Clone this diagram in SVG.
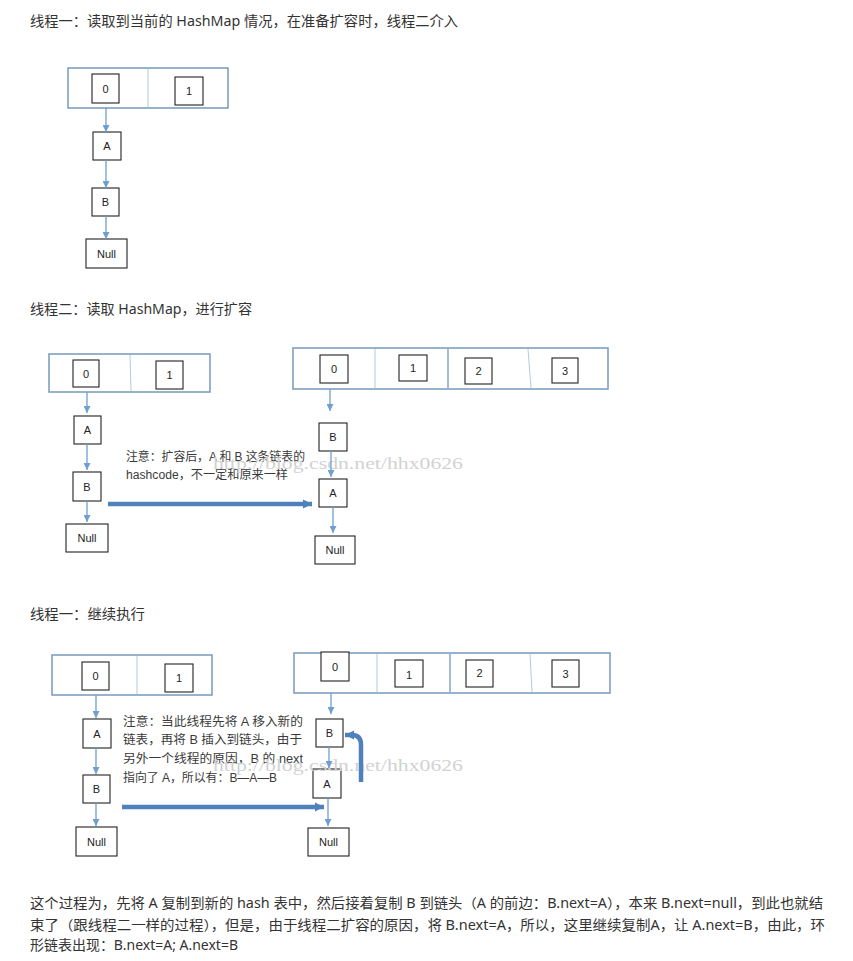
<svg xmlns="http://www.w3.org/2000/svg" width="853" height="961" viewBox="0 0 853 961">
  <style>
    .head { font-family: "Noto Sans", "Noto Sans CJK SC", sans-serif; font-size: 14px; fill: #333333; }
    .para { font-family: "Noto Sans", "Noto Sans CJK SC", sans-serif; font-size: 13.5px; fill: #333333; }
    .note { font-family: "Liberation Sans", "Noto Sans CJK SC", sans-serif; font-size: 12px; fill: #3a3a3a; }
    .mark { font-family: "Liberation Serif", serif; font-size: 17px; fill: #d2d2d2; }
    .table { fill: #ffffff; stroke: #7f9fc0; stroke-width: 1.6; }
    .div-light { stroke: #b7c9dc; stroke-width: 1; }
    .div-dark { stroke: #7f9fc0; stroke-width: 1.4; }
    .box { fill: #ffffff; stroke: #222222; stroke-width: 1.1; }
    .lbl { font-family: "Liberation Sans", sans-serif; font-size: 11px; fill: #222222; text-anchor: middle; dominant-baseline: central; }
    .link { stroke: #6f9fd0; stroke-width: 1.3; fill: none; marker-end: url(#tip); }
    .fat { stroke: #4f81bd; stroke-width: 4.5; fill: none; marker-end: url(#fatTip); }
  </style>
  <defs>
    <marker id="tip" viewBox="0 0 10 10" refX="10" refY="5" markerWidth="7" markerHeight="7" markerUnits="userSpaceOnUse" orient="auto">
      <path d="M0,0 L10,5 L0,10 z" fill="#6f9fd0"/>
    </marker>
    <marker id="fatTip" viewBox="0 0 10 10" refX="10" refY="5" markerWidth="9" markerHeight="10" markerUnits="userSpaceOnUse" orient="auto">
      <path d="M0,0 L10,5 L0,10 z" fill="#4f81bd"/>
    </marker>
  </defs>

  <rect width="853" height="961" fill="#ffffff"/>

  <!-- section headings -->
  <text class="head" x="30" y="26" textLength="428" lengthAdjust="spacingAndGlyphs">线程一：读取到当前的 HashMap 情况，在准备扩容时，线程二介入</text>
  <text class="head" x="30" y="314" textLength="222" lengthAdjust="spacingAndGlyphs">线程二：读取 HashMap，进行扩容</text>
  <text class="head" x="30" y="619" textLength="115" lengthAdjust="spacingAndGlyphs">线程一：继续执行</text>

  <!-- ===== stage 1: original table ===== -->
  <g id="s1-table">
    <rect class="table" x="68" y="68" width="160" height="40"/>
    <line class="div-light" x1="148" y1="69" x2="148" y2="107"/>
  </g>
  <g id="s1-slot0"><rect class="box" x="92" y="74" width="27" height="29"/><text class="lbl" x="105.5" y="88.5">0</text></g>
  <g id="s1-slot1"><rect class="box" x="175" y="77" width="28" height="28"/><text class="lbl" x="189" y="91">1</text></g>
  <g id="s1-A"><rect class="box" x="93" y="132" width="28" height="28"/><text class="lbl" x="107" y="146">A</text></g>
  <g id="s1-B"><rect class="box" x="92" y="188" width="27" height="28"/><text class="lbl" x="105.5" y="202">B</text></g>
  <g id="s1-null"><rect class="box" x="86" y="239" width="41" height="29"/><text class="lbl" x="106.5" y="253.5">Null</text></g>

  <!-- ===== stage 2: old table ===== -->
  <g id="s2-old-table">
    <rect class="table" x="49" y="354" width="161" height="38"/>
    <line class="div-light" x1="130" y1="355" x2="131" y2="391"/>
  </g>
  <g id="s2-old-slot0"><rect class="box" x="73" y="360" width="26" height="27"/><text class="lbl" x="86" y="373.5">0</text></g>
  <g id="s2-old-slot1"><rect class="box" x="156" y="361" width="27" height="28"/><text class="lbl" x="169.5" y="375">1</text></g>
  <g id="s2-old-A"><rect class="box" x="74" y="416" width="27" height="28"/><text class="lbl" x="87.5" y="430">A</text></g>
  <g id="s2-old-B"><rect class="box" x="73" y="472" width="28" height="29"/><text class="lbl" x="87" y="486.5">B</text></g>
  <g id="s2-old-null"><rect class="box" x="66" y="524" width="42" height="28"/><text class="lbl" x="87" y="538">Null</text></g>

  <!-- ===== stage 2: resized table ===== -->
  <g id="s2-new-table">
    <rect class="table" x="293" y="348" width="315" height="41"/>
    <line class="div-light" x1="375" y1="349" x2="375" y2="388"/>
    <line class="div-dark" x1="448" y1="349" x2="448" y2="388"/>
    <line class="div-light" x1="528" y1="349" x2="531" y2="388"/>
  </g>
  <g id="s2-new-slot0"><rect class="box" x="320" y="355" width="28" height="28"/><text class="lbl" x="334" y="369">0</text></g>
  <g id="s2-new-slot1"><rect class="box" x="399" y="355" width="28" height="26"/><text class="lbl" x="413" y="368">1</text></g>
  <g id="s2-new-slot2"><rect class="box" x="465" y="358" width="27" height="26"/><text class="lbl" x="478.5" y="371">2</text></g>
  <g id="s2-new-slot3"><rect class="box" x="552" y="358" width="26" height="25"/><text class="lbl" x="565" y="370.5">3</text></g>
  <g id="s2-new-B"><rect class="box" x="319" y="423" width="28" height="28"/><text class="lbl" x="333" y="437">B</text></g>
  <g id="s2-new-A"><rect class="box" x="319" y="479" width="28" height="28"/><text class="lbl" x="333" y="493">A</text></g>
  <g id="s2-new-null"><rect class="box" x="315" y="536" width="40" height="28"/><text class="lbl" x="335" y="550">Null</text></g>

  <g id="s2-note">
    <text class="note" x="126" y="461" textLength="179" lengthAdjust="spacingAndGlyphs">注意：扩容后，A 和 B 这条链表的</text>
    <text class="note" x="126" y="479" textLength="162" lengthAdjust="spacingAndGlyphs">hashcode，不一定和原来一样</text>
  </g>

  <!-- ===== stage 3: old table ===== -->
  <g id="s3-old-table">
    <rect class="table" x="52" y="655" width="160" height="40"/>
    <line class="div-light" x1="137" y1="656" x2="137" y2="694"/>
  </g>
  <g id="s3-old-slot0"><rect class="box" x="82" y="662" width="27" height="28"/><text class="lbl" x="95.5" y="676">0</text></g>
  <g id="s3-old-slot1"><rect class="box" x="165" y="664" width="28" height="28"/><text class="lbl" x="179" y="678">1</text></g>
  <g id="s3-old-A"><rect class="box" x="83" y="719" width="28" height="29"/><text class="lbl" x="97" y="733.5">A</text></g>
  <g id="s3-old-B"><rect class="box" x="83" y="775" width="27" height="28"/><text class="lbl" x="96.5" y="789">B</text></g>
  <g id="s3-old-null"><rect class="box" x="76" y="827" width="41" height="29"/><text class="lbl" x="96.5" y="841.5">Null</text></g>

  <!-- ===== stage 3: resized table ===== -->
  <g id="s3-new-table">
    <rect class="table" x="294" y="653" width="316" height="40"/>
    <line class="div-light" x1="377" y1="654" x2="377" y2="692"/>
    <line class="div-dark" x1="450" y1="654" x2="450" y2="692"/>
    <line class="div-light" x1="530" y1="654" x2="532" y2="692"/>
  </g>
  <g id="s3-new-slot0"><rect class="box" x="321" y="652" width="28" height="29"/><text class="lbl" x="335" y="666.5">0</text></g>
  <g id="s3-new-slot1"><rect class="box" x="395" y="660" width="28" height="27"/><text class="lbl" x="409" y="675">1</text></g>
  <g id="s3-new-slot2"><rect class="box" x="466" y="660" width="27" height="27"/><text class="lbl" x="479.5" y="673">2</text></g>
  <g id="s3-new-slot3"><rect class="box" x="552" y="660" width="27" height="27"/><text class="lbl" x="565.5" y="673.5">3</text></g>
  <g id="s3-new-B"><rect class="box" x="316" y="719" width="27" height="28"/><text class="lbl" x="329.5" y="733">B</text></g>
  <g id="s3-new-A"><rect class="box" x="313" y="769" width="28" height="29"/><text class="lbl" x="327" y="783.5">A</text></g>
  <g id="s3-new-null"><rect class="box" x="308" y="828" width="41" height="28"/><text class="lbl" x="328.5" y="842">Null</text></g>

  <g id="s3-note">
    <text class="note" x="123" y="726" textLength="180" lengthAdjust="spacingAndGlyphs">注意：当此线程先将 A 移入新的</text>
    <text class="note" x="123" y="744" textLength="179" lengthAdjust="spacingAndGlyphs">链表，再将 B 插入到链头，由于</text>
    <text class="note" x="123" y="763" textLength="180" lengthAdjust="spacingAndGlyphs">另外一个线程的原因，B 的 next</text>
    <text class="note" x="123" y="782" textLength="154" lengthAdjust="spacingAndGlyphs">指向了 A，所以有：B—A—B</text>
  </g>

  <!-- faint site watermark -->
  <text class="mark" x="213" y="469" textLength="250" lengthAdjust="spacingAndGlyphs">http://blog.csdn.net/hhx0626</text>
  <text class="mark" x="213" y="771" textLength="250" lengthAdjust="spacingAndGlyphs">http://blog.csdn.net/hhx0626</text>

  <!-- connectors -->
  <g id="connectors">
    <line class="link" x1="106" y1="108" x2="106" y2="132"/>
    <line class="link" x1="106" y1="160" x2="106" y2="188"/>
    <line class="link" x1="106" y1="216" x2="106" y2="239"/>

    <line class="link" x1="87" y1="392" x2="87" y2="413"/>
    <line class="link" x1="87" y1="444" x2="87" y2="470"/>
    <line class="link" x1="87" y1="501" x2="87" y2="522"/>

    <line class="link" x1="330" y1="389" x2="330" y2="411"/>
    <line class="link" x1="331" y1="451" x2="331" y2="477"/>
    <line class="link" x1="333" y1="507" x2="333" y2="533"/>

    <line class="fat" x1="108" y1="504" x2="312" y2="504"/>

    <line class="link" x1="96" y1="695" x2="96" y2="718"/>
    <line class="link" x1="96" y1="748" x2="96" y2="774"/>
    <line class="link" x1="96" y1="803" x2="96" y2="826"/>

    <line class="link" x1="331" y1="693" x2="331" y2="714"/>
    <line class="link" x1="329" y1="747" x2="329" y2="768"/>
    <line class="link" x1="328" y1="798" x2="328" y2="826"/>

    <line class="fat" x1="122" y1="807" x2="324" y2="807"/>
    <path class="fat" d="M361,782 L361,745 Q361,735 352,735 L345,735"/>
  </g>

  <!-- closing paragraph -->
  <text class="para" x="30" y="908" textLength="793" lengthAdjust="spacingAndGlyphs">这个过程为，先将 A 复制到新的 hash 表中，然后接着复制 B 到链头（A 的前边：B.next=A），本来 B.next=null，到此也就结</text>
  <text class="para" x="30" y="930" textLength="795" lengthAdjust="spacingAndGlyphs">束了（跟线程二一样的过程），但是，由于线程二扩容的原因，将 B.next=A，所以，这里继续复制A，让 A.next=B，由此，环</text>
  <text class="para" x="30" y="950" textLength="208" lengthAdjust="spacingAndGlyphs">形链表出现：B.next=A; A.next=B</text>
</svg>
